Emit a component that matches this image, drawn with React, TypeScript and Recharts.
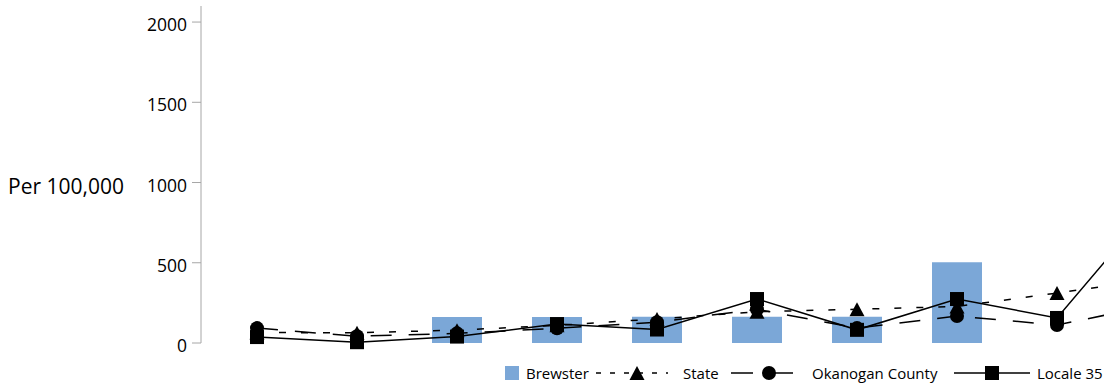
import {
  ComposedChart,
  Bar,
  Line,
  YAxis,
  XAxis,
  Legend,
} from 'recharts';

// Values (rate per 100,000); nulls where nothing is drawn
const categories = ['1', '2', '3', '4', '5', '6', '7', '8', '9', '10'];
const brewster = [null, null, 162, 162, 163, 163, 163, 503, null, null];
const state = [65, 64, 80, 110, 150, 195, 210, 228, 311, 400];
const okanogan = [93, 42, 60, 92, 130, 210, 93, 168, 112, 240];
const locale = [37, 5, 40, 118, 84, 274, 82, 274, 156, 890];
const yTicks = [0, 500, 1000, 1500, 2000];

const data = categories.map((name, i) => ({
  name,
  brewster: brewster[i],
  state: state[i],
  okanogan: okanogan[i],
  locale: locale[i],
}));

const FONT = '"Open Sans", "Noto Sans", sans-serif';
const BAR_COLOR = '#7ba7d7';
const AXIS_COLOR = '#a6a6a6';

// Marker shapes
const CircleDot = (props: any) => {
  const { cx, cy, index, value } = props;
  if (cx == null || cy == null || value == null) return <g key={`c-${index}`} />;
  return <circle key={`c-${index}`} cx={cx} cy={cy} r={7} fill="#000" />;
};

const SquareDot = (props: any) => {
  const { cx, cy, index, value } = props;
  if (cx == null || cy == null || value == null) return <g key={`s-${index}`} />;
  return <rect key={`s-${index}`} x={cx - 7} y={cy - 7} width={14} height={14} fill="#000" />;
};

const TriangleDot = (props: any) => {
  const { cx, cy, index, value } = props;
  if (cx == null || cy == null || value == null) return <g key={`t-${index}`} />;
  return (
    <polygon
      key={`t-${index}`}
      points={`${cx},${cy - 7} ${cx + 7.5},${cy + 7} ${cx - 7.5},${cy + 7}`}
      fill="#000"
    />
  );
};

// Y tick, nudged a little below the tick mark like the reference
const YTick = ({ x, y, payload }: any) => (
  <text x={x - 3} y={y + 9} textAnchor="end" fontFamily={FONT} fontSize={17.5} fill="#000">
    {payload.value}
  </text>
);

const YLabel = () => (
  <text x={8} y={193.5} fontFamily={FONT} fontSize={21} fill="#000">
    Per 100,000
  </text>
);

// Legend row with line+marker icons
const CustomLegend = () => (
  <div style={{ position: 'relative', width: '100%', height: 22, fontFamily: FONT, fontSize: 15, color: '#000' }}>
    <div style={{ position: 'absolute', left: 505, top: 4, width: 14, height: 14, background: BAR_COLOR }} />
    <span style={{ position: 'absolute', left: 526, top: 0, lineHeight: '22px' }}>Brewster</span>

    <svg style={{ position: 'absolute', left: 596, top: 0 }} width={72} height={22}>
      <line x1={0} y1={11} x2={72} y2={11} stroke="#000" strokeWidth={1.5} strokeDasharray="5 9" />
      <polygon points="41,4 48.5,18 33.5,18" fill="#000" />
    </svg>
    <span style={{ position: 'absolute', left: 683, top: 0, lineHeight: '22px' }}>State</span>

    <svg style={{ position: 'absolute', left: 728, top: 0 }} width={66} height={22}>
      <line x1={3} y1={11} x2={25} y2={11} stroke="#000" strokeWidth={1.5} />
      <line x1={47} y1={11} x2={65} y2={11} stroke="#000" strokeWidth={1.5} />
      <circle cx={41} cy={11} r={7} fill="#000" />
    </svg>
    <span style={{ position: 'absolute', left: 812, top: 0, lineHeight: '22px' }}>Okanogan County</span>

    <svg style={{ position: 'absolute', left: 950, top: 0 }} width={80} height={22}>
      <line x1={4} y1={11} x2={80} y2={11} stroke="#000" strokeWidth={1.5} />
      <rect x={35} y={4} width={14} height={14} fill="#000" />
    </svg>
    <span style={{ position: 'absolute', left: 1037, top: 0, lineHeight: '22px', whiteSpace: 'nowrap' }}>Locale 35</span>
  </div>
);

export default function App() {
  return (
    <div style={{ position: 'absolute', left: 0, top: 0, width: 1104, height: 386, overflow: 'hidden', background: '#fff' }}>
      <ComposedChart
        width={1220}
        height={386}
        data={data}
        margin={{ top: 6, right: 13, left: 0, bottom: 21 }}
      >
        <XAxis dataKey="name" hide padding={{ left: 6, right: 0 }} />
        <YAxis
          width={201}
          domain={[0, 2100]}
          ticks={yTicks}
          interval={0}
          stroke={AXIS_COLOR}
          tickSize={9}
          tick={<YTick />}
          label={<YLabel />}
        />
        <Legend
          content={<CustomLegend />}
          verticalAlign="bottom"
          wrapperStyle={{ left: 0, top: 362, bottom: 'auto', width: 1220, height: 22 }}
        />
        <Bar dataKey="brewster" fill={BAR_COLOR} barSize={50} isAnimationActive={false} />
        <Line
          dataKey="state"
          stroke="#000"
          strokeWidth={1.5}
          strokeDasharray="7 15"
          dot={TriangleDot}
          activeDot={false}
          isAnimationActive={false}
        />
        <Line
          dataKey="okanogan"
          stroke="#000"
          strokeWidth={1.5}
          strokeDasharray="21 17"
          dot={CircleDot}
          activeDot={false}
          isAnimationActive={false}
        />
        <Line
          dataKey="locale"
          stroke="#000"
          strokeWidth={1.5}
          dot={SquareDot}
          activeDot={false}
          isAnimationActive={false}
        />
      </ComposedChart>
    </div>
  );
}
